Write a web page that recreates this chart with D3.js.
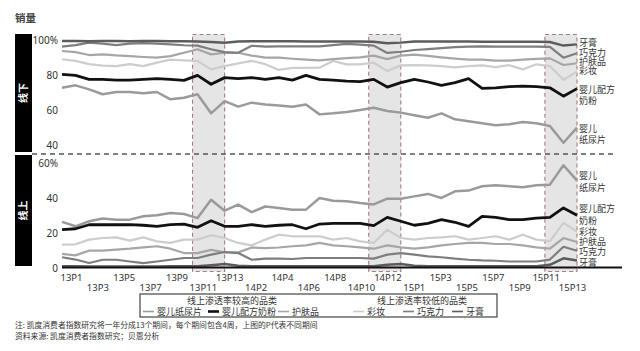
<!DOCTYPE html>
<html lang="zh">
<head>
<meta charset="utf-8">
<script src="https://cdn.jsdelivr.net/npm/d3@7"></script>
<style>
  html, body { margin: 0; padding: 0; background: #fff; }
  svg { display: block; font-family: "Noto Sans CJK SC", "Noto Sans", sans-serif; }
</style>
</head>
<body>
<div id="chart"></div>
<script>
// periods: 13 periods a year, 2013-2015
const PERIODS = [
  "13P1","13P2","13P3","13P4","13P5","13P6","13P7","13P8","13P9","13P10","13P11","13P12","13P13",
  "14P1","14P2","14P3","14P4","14P5","14P6","14P7","14P8","14P9","14P10","14P11","14P12","14P13",
  "15P1","15P2","15P3","15P4","15P5","15P6","15P7","15P8","15P9","15P10","15P11","15P12","15P13"
];

const TICK_LABELS = [
  "13P1","13P3","13P5","13P7","13P9","13P11","13P13",
  "14P2","14P4","14P6","14P8","14P10","14P12",
  "15P1","15P3","15P5","15P7","15P9","15P11","15P13"
];

const HIGHLIGHTS = [["13P11","13P13"], ["14P11","14P13"], ["15P11","15P13"]];

// 线下 (offline share, %)
const diaperOffline = [73.1,74.5,72.2,69.4,70.7,70.7,70.0,70.7,66.5,67.4,69.4,58.5,65.5,62.3,64.6,63.6,63.0,62.3,63.6,57.9,58.5,59.3,60.4,61.7,59.8,58.9,57.4,56.0,58.5,55.1,54.0,52.8,51.7,52.2,53.5,52.8,51.3,41.7,50.3];
const formulaOffline = [80.8,80.2,77.9,77.9,77.5,77.5,77.9,78.3,77.9,77.3,80.2,75.1,78.9,78.3,78.9,77.9,78.9,77.5,80.2,77.9,77.5,76.9,76.6,77.9,73.5,76.0,77.9,76.4,74.5,76.0,78.3,72.8,73.1,73.7,74.1,73.7,73.1,68.3,72.6];
const skincareOffline = [94.1,93.5,91.8,92.2,91.6,91.2,90.7,90.3,91.2,93.1,95.1,92.2,93.1,93.1,91.5,90.3,90.3,89.7,89.2,88.8,89.5,90.0,90.5,91.5,89.5,91.5,92.0,91.3,90.5,89.8,89.2,89.2,88.6,88.6,89.2,89.6,89.9,86.1,87.1];
const cosmeticsOffline = [89.4,88.5,86.6,85.8,85.5,86.6,85.5,87.5,89.2,88.8,88.4,83.6,85.5,87.0,88.5,86.6,83.3,84.5,84.5,84.6,88.4,86.5,86.5,87.5,82.7,85.9,86.0,85.9,85.5,84.8,85.5,85.9,84.9,86.0,83.6,86.5,85.5,77.7,82.3];
const chocolateOffline = [96.6,97.5,98.9,98.3,97.5,98.3,98.6,98.3,97.9,97.4,97.2,95.1,93.5,93.1,97.1,96.6,96.8,96.8,96.8,96.8,97.5,98.2,97.8,97.2,93.0,93.7,94.7,95.2,95.8,96.3,96.6,96.8,96.6,96.6,96.6,96.6,96.5,90.3,92.8];
const toothpasteOffline = [99.8,99.8,99.7,99.8,99.8,99.7,99.8,99.8,99.7,99.7,99.6,99.2,98.8,99.6,99.7,99.7,99.7,99.7,99.6,99.6,99.6,99.6,99.6,99.4,98.6,98.9,99.5,99.5,99.5,99.5,99.5,99.4,99.4,99.4,99.4,99.4,99.3,97.2,97.9];

// 线上 (online share, %)
const diaperOnline = [26.5,24.0,26.9,28.4,27.8,27.8,29.7,30.3,31.6,31.0,28.7,39.2,32.9,36.4,32.1,35.3,34.5,33.5,33.5,40.2,38.6,38.3,37.3,36.5,39.8,39.8,41.1,42.5,40.2,44.0,44.4,46.9,47.4,46.9,46.3,47.4,47.8,58.9,50.1];
const formulaOnline = [22.1,22.6,24.9,24.9,24.9,24.9,24.6,24.0,24.9,25.3,23.4,27.2,24.0,24.0,24.9,24.0,24.6,24.9,22.6,25.3,25.7,25.7,25.7,24.4,29.1,26.9,24.6,25.7,27.8,26.3,24.0,29.7,29.1,27.8,27.8,28.7,29.1,34.5,30.3];
const skincareOnline = [8.2,7.4,10.1,10.1,10.7,11.2,12.0,12.6,11.2,8.7,8.7,10.5,9.1,9.1,11.9,11.5,11.9,12.6,13.1,14.5,13.1,12.6,12.0,11.2,13.1,12.0,11.2,12.0,13.1,13.9,14.5,14.5,13.9,13.9,13.1,12.0,11.2,17.3,15.0];
const cosmeticsOnline = [13.5,13.7,16.4,17.3,17.7,15.8,17.7,15.4,14.5,16.4,16.4,18.9,17.3,14.5,13.1,16.4,19.2,18.3,18.3,18.3,16.4,17.3,15.4,14.5,22.1,17.3,16.4,17.3,17.7,18.3,16.4,17.3,18.3,16.4,19.2,16.4,15.5,26.0,21.0];
const chocolateOnline = [6.3,5.0,3.0,4.9,4.9,3.9,3.0,3.9,4.9,5.9,5.9,7.8,9.3,8.7,4.9,5.5,5.5,5.3,5.9,5.9,5.9,5.9,5.9,5.5,7.8,8.7,7.8,6.8,6.3,5.5,4.9,4.5,4.3,3.9,3.9,3.9,5.0,12.3,10.0];
const toothpasteOnline = [1.2,1.2,1.0,1.0,1.0,1.0,1.0,1.0,1.2,1.2,1.2,1.8,2.5,1.5,1.2,1.2,1.2,1.2,1.2,1.2,1.2,1.2,1.2,1.2,2.0,2.5,1.5,1.2,1.2,1.2,1.2,1.2,1.2,1.2,1.2,1.2,2.0,5.7,4.5];

// right side labels and the value they sit at
const TOP_LABELS = [["牙膏"], ["巧克力"], ["护肤品"], ["彩妆"], ["婴儿配方", "奶粉"], ["婴儿", "纸尿片"]];
const TOP_LABEL_AT = [98.9, 93.1, 88.0, 82.7, 72.2, 49.9];
const BOT_LABELS = [["婴儿", "纸尿片"], ["婴儿配方", "奶粉"], ["彩妆"], ["护肤品"], ["巧克力"], ["牙膏"]];
const BOT_LABEL_AT = [52.7, 33.9, 20.9, 15.2, 9.5, 3.2];

// drawing order: light lines first, formula on top
const SERIES = [
  { name: "彩妆",       off: cosmeticsOffline,  on: cosmeticsOnline,  color: "#cdcdcd", w: 2.2 },
  { name: "护肤品",     off: skincareOffline,   on: skincareOnline,   color: "#a6a6a6", w: 2.2 },
  { name: "婴儿纸尿片", off: diaperOffline,     on: diaperOnline,     color: "#9a9a9a", w: 2.5 },
  { name: "巧克力",     off: chocolateOffline,  on: chocolateOnline,  color: "#7e7e7e", w: 2.2 },
  { name: "牙膏",       off: toothpasteOffline, on: toothpasteOnline, color: "#5c5c5c", w: 2.5 },
  { name: "婴儿配方奶粉", off: formulaOffline,  on: formulaOnline,    color: "#111111", w: 2.8 }
];

const W = 640, H = 351;
const TEXT = "#333";

const svg = d3.select("#chart").append("svg")
  .attr("width", W)
  .attr("height", H);

// scales
const x = d3.scalePoint().domain(PERIODS).range([62, 577]);
const xLab = d3.scalePoint().domain(PERIODS).range([71, 572]);
const yTop = d3.scaleLinear().domain([40, 100]).range([145.7, 40.7]);
const yBot = d3.scaleLinear().domain([0, 60]).range([268.3, 163.3]);

// title
svg.append("text")
  .attr("x", 15).attr("y", 22)
  .attr("font-size", "10.5px")
  .attr("font-weight", "bold")
  .attr("fill", "#444")
  .text("销量");

// highlighted periods
svg.selectAll(".hl")
  .data(HIGHLIGHTS)
  .enter().append("rect")
  .attr("class", "hl")
  .attr("x", d => x(d[0]) - 5)
  .attr("y", 34.5)
  .attr("width", d => x(d[1]) - x(d[0]) + 5)
  .attr("height", 237)
  .attr("fill", "#e5e5e5")
  .attr("stroke", "#a27e86")
  .attr("stroke-width", 1.1)
  .attr("stroke-dasharray", "4,3");

// left panel bars
const panels = [
  { label: "线下", y0: 34, y1: 152 },
  { label: "线上", y0: 155, y1: 266 }
];
svg.selectAll(".panel")
  .data(panels)
  .enter().append("rect")
  .attr("x", 15).attr("width", 17)
  .attr("y", d => d.y0)
  .attr("height", d => d.y1 - d.y0)
  .attr("fill", "#000");
svg.selectAll(".panel-label")
  .data(panels)
  .enter().append("text")
  .attr("transform", d => `translate(27,${(d.y0 + d.y1) / 2}) rotate(-90)`)
  .attr("text-anchor", "middle")
  .attr("font-size", "10px")
  .attr("font-weight", "bold")
  .attr("fill", "#fff")
  .text(d => d.label);

// divider between panels
svg.append("line")
  .attr("x1", 32).attr("x2", 613)
  .attr("y1", 154).attr("y2", 154)
  .attr("stroke", "#555")
  .attr("stroke-width", 1.5)
  .attr("stroke-dasharray", "5,4");

// y axes
function yAxis(scale, ticks, top) {
  const g = svg.append("g")
    .attr("transform", "translate(58,0)")
    .call(d3.axisLeft(scale).tickValues(ticks).tickSize(0).tickPadding(0)
      .tickFormat(d => d === top ? `${d}%` : d));
  g.select(".domain").remove();
  g.selectAll("text")
    .attr("font-size", "10px")
    .attr("font-family", "'Noto Sans', sans-serif")
    .attr("fill", TEXT);
}
yAxis(yTop, [40, 60, 80, 100], 100);
yAxis(yBot, [0, 20, 40, 60], 60);

// lines
const lineTop = d3.line().x((d, i) => x(PERIODS[i])).y(d => yTop(d));
const lineBot = d3.line().x((d, i) => x(PERIODS[i])).y(d => yBot(d));

SERIES.forEach(s => {
  svg.append("path")
    .datum(s.off)
    .attr("d", lineTop)
    .attr("fill", "none")
    .attr("stroke", s.color)
    .attr("stroke-width", s.w)
    .attr("stroke-linejoin", "round");
  svg.append("path")
    .datum(s.on)
    .attr("d", lineBot)
    .attr("fill", "none")
    .attr("stroke", s.color)
    .attr("stroke-width", s.w)
    .attr("stroke-linejoin", "round");
});

// x axis base line
svg.append("line")
  .attr("x1", 62).attr("x2", 622)
  .attr("y1", 267.5).attr("y2", 267.5)
  .attr("stroke", "#111")
  .attr("stroke-width", 2);

// x tick labels, two staggered rows
const xg = svg.append("g")
  .attr("transform", "translate(0,268)")
  .call(d3.axisBottom(xLab).tickValues(TICK_LABELS).tickSize(0));
xg.select(".domain").remove();
xg.selectAll("text")
  .attr("dy", null)
  .attr("y", (d, i) => i % 2 === 0 ? 13 : 22.5)
  .attr("font-size", "9.5px")
  .attr("font-family", "'Noto Sans', sans-serif")
  .attr("fill", TEXT);

// right labels
function sideLabels(labels, at, scale) {
  labels.forEach((lines, i) => {
    const t = svg.append("text")
      .attr("x", 579)
      .attr("y", scale(at[i]) + 3.2)
      .attr("font-size", "9px")
      .attr("fill", TEXT);
    lines.forEach((s, j) => {
      t.append("tspan")
        .attr("x", 579)
        .attr("dy", j === 0 ? 0 : 11.5)
        .text(s);
    });
  });
}
sideLabels(TOP_LABELS, TOP_LABEL_AT, yTop);
sideLabels(BOT_LABELS, BOT_LABEL_AT, yBot);

// legend
const legend = svg.append("g");
legend.append("rect")
  .attr("x", 140).attr("y", 294)
  .attr("width", 357).attr("height", 23)
  .attr("fill", "none")
  .attr("stroke", "#444")
  .attr("stroke-width", 1.2);
[["线上渗透率较高的品类", 232], ["线上渗透率较低的品类", 422]].forEach(([t, cx]) => {
  legend.append("text")
    .attr("x", cx).attr("y", 304)
    .attr("text-anchor", "middle")
    .attr("font-size", "9px")
    .attr("fill", TEXT)
    .text(t);
});
const legendX = { "婴儿纸尿片": 143, "婴儿配方奶粉": 208, "护肤品": 278, "彩妆": 353, "巧克力": 403, "牙膏": 452 };
const legendOrder = ["婴儿纸尿片", "婴儿配方奶粉", "护肤品", "彩妆", "巧克力", "牙膏"];
legendOrder.forEach(name => {
  const s = SERIES.find(d => d.name === name);
  const lx = legendX[name];
  legend.append("line")
    .attr("x1", lx).attr("x2", lx + 11)
    .attr("y1", 311.5).attr("y2", 311.5)
    .attr("stroke", s.color)
    .attr("stroke-width", name === "婴儿配方奶粉" ? 2.6 : 1.6);
  legend.append("text")
    .attr("x", lx + 14).attr("y", 315)
    .attr("font-size", "9px")
    .attr("fill", TEXT)
    .text(name);
});

// footnotes
svg.append("text")
  .attr("x", 15).attr("y", 327.5)
  .attr("font-size", "7.8px")
  .attr("fill", TEXT)
  .text("注: 凯度消费者指数研究将一年分成13个期间，每个期间包含4周，上图的P代表不同期间");
svg.append("text")
  .attr("x", 15).attr("y", 339)
  .attr("font-size", "7.8px")
  .attr("fill", TEXT)
  .text("资料来源: 凯度消费者指数研究；贝恩分析");
</script>
</body>
</html>
